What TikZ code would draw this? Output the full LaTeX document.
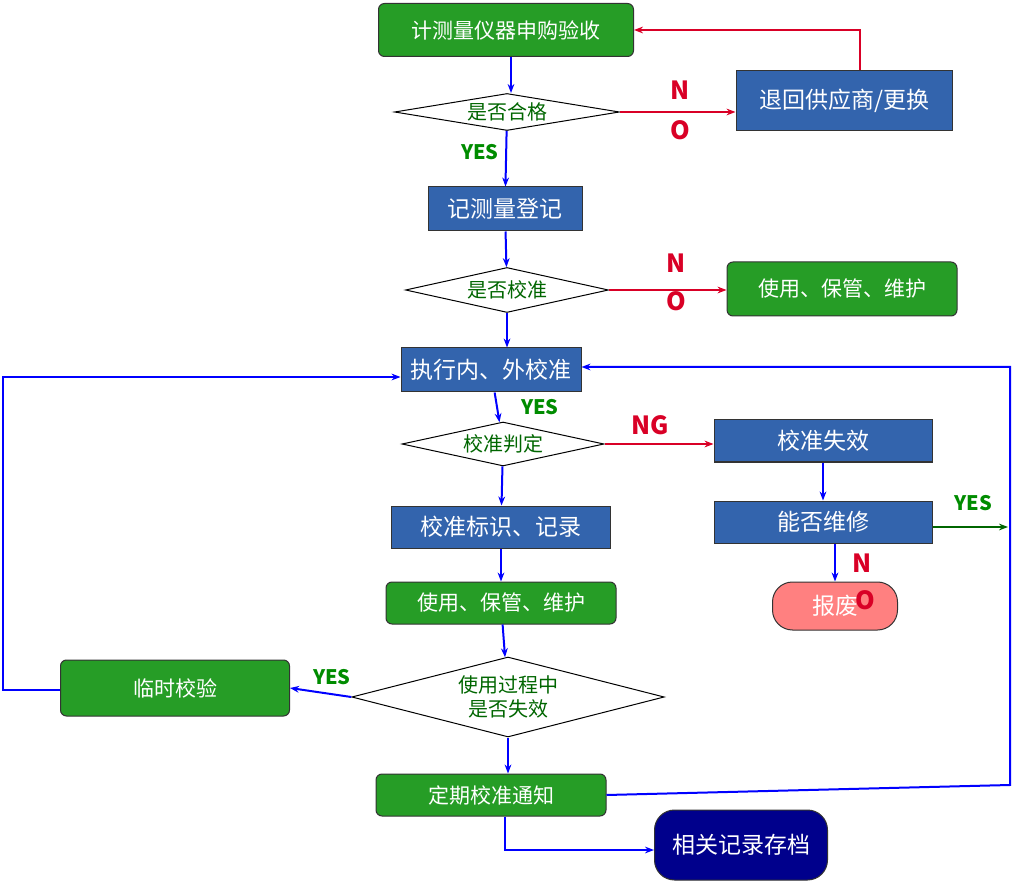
\documentclass[tikz,border=0pt]{standalone}
\usepackage{fontspec}
\setmainfont{Noto Sans CJK SC}
\usetikzlibrary{shapes.geometric,arrows.meta}
\begin{document}
\begin{tikzpicture}[x=1pt,y=-1pt,
 gbox/.style={draw=black!80,line width=1pt,fill=green!55!black!85,rounded corners=6pt,text=white,font=\fontsize{21}{23}\selectfont,minimum width=#1,minimum height=44pt,inner sep=0pt},
 bbox/.style={draw=black!80,line width=1pt,fill=blue!60!cyan!60!black!80,text=white,font=\fontsize{23}{25}\selectfont,minimum width=#1,minimum height=42pt,inner sep=0pt},
 dia/.style 2 args={draw,line width=1pt,diamond,aspect=5,fill=white,text=green!40!black,font=\fontsize{20}{22}\selectfont,inner sep=0pt,minimum width=#1,minimum height=#2},
 ar/.style={draw=blue,line width=2pt,-{Stealth[length=9pt]}},
 rr/.style={draw=red!85!blue,line width=2pt,-{Stealth[length=9pt]}},
 lr/.style={text=red!85!blue,font=\fontsize{25}{27}\selectfont\bfseries},
 lg/.style={text=green!55!black,font=\fontsize{20}{22}\selectfont\bfseries}]
\useasboundingbox (0,0) rectangle (1015,882);
\node[gbox=255pt,minimum height=53pt] (a) at (506,30) {计测量仪器申购验收};
\node[dia={225pt}{37pt}] (b) at (507,112) {是否合格};
\node[bbox=216pt,minimum height=60pt] (c) at (844,101) {退回供应商/更换};
\node[bbox=154pt,minimum height=44pt] (d) at (505,209) {记测量登记};
\node[dia={203pt}{45pt}] (e) at (507,290) {是否校准};
\node[gbox=230pt,minimum height=54pt] (f) at (842,289) {使用、保管、维护};
\node[bbox=180pt,minimum height=44pt] (g) at (491,370) {执行内、外校准};
\node[dia={202pt}{44pt}] (h) at (503,444) {校准判定};
\node[bbox=218pt] (i) at (823,441) {校准失效};
\node[bbox=218pt] (j) at (823,522) {能否维修};
\node[draw=black!80,line width=1pt,fill=red!50!white,rounded corners=20pt,minimum width=125pt,minimum height=48pt,text=white,font=\fontsize{23}{25}\selectfont] (k) at (835,606) {报废};
\node[bbox=219pt] (l) at (501,527) {校准标识、记录};
\node[gbox=230pt,minimum height=42pt] (m) at (501,603) {使用、保管、维护};
\node[dia={296pt}{80pt},align=center,font=\fontsize{20}{24}\selectfont] (n) at (508,697) {使用过程中\\是否失效};
\node[gbox=229pt,minimum height=56pt] (o) at (175,688) {临时校验};
\node[gbox=230pt,minimum height=42pt] (p) at (491,795) {定期校准通知};
\node[draw=black!80,line width=1pt,fill=blue!55!black,rounded corners=20pt,minimum width=173pt,minimum height=70pt,text=white,font=\fontsize{23}{25}\selectfont] (q) at (741,845) {相关记录存档};
\coordinate (c1) at (860,30);
\coordinate (o1) at (3,690); \coordinate (o2) at (3,377);
\coordinate (p1) at (1010,785); \coordinate (p2) at (1010,367);
\coordinate (q1) at (505,850);
\coordinate (y1) at (1008,527);
\coordinate (a1) at (511,93);
\draw[ar] (a.south -| a1) -- (a1);
\draw[ar] (b) -- (d);
\draw[ar] (d) -- (e);
\draw[ar] (e) -- (g.north -| e);
\draw[ar] (g) -- (h);
\draw[ar] (h) -- (l);
\draw[ar] (l) -- (m);
\draw[ar] (m) -- (n);
\draw[ar] (n) -- (p.north -| n);
\draw[ar] (n.west) -- (o.east);
\draw[ar] (i) -- (j);
\draw[ar] (j.south -| k) -- (k);
\draw[rr] (b.east) -- (c.west |- b.east);
\draw[rr] (e.east) -- (f.west |- e.east);
\draw[rr] (h.east) -- (i.west |- h.east);
\draw[rr] (c.north -| c1) -- (c1) -- (a.east |- c1);
\draw[draw=green!40!black,line width=2pt,-{Stealth[length=9pt]}] (j.east |- y1) -- (y1);
\draw[ar] (o.west |- o1) -- (o1) -- (o2) -- (g.west |- o2);
\draw[ar] (p.east) -- (p1) -- (p2) -- (g.east |- p2);
\draw[ar] (p.south -| q1) -- (q1) -- (q.west |- q1);
\node[lr] at (680,90) {N}; \node[lr] at (680,130) {O};
\node[lr] at (676,263) {N}; \node[lr] at (676,301) {O};
\node[lr] at (650,425) {NG};
\node[lr] at (862,563) {N}; \node[lr] at (865,600) {O};
\node[lg] at (480,152) {YES};
\node[lg] at (540,407) {YES};
\node[lg] at (973,503) {YES};
\node[lg] at (332,677) {YES};
\end{tikzpicture}
\end{document}
